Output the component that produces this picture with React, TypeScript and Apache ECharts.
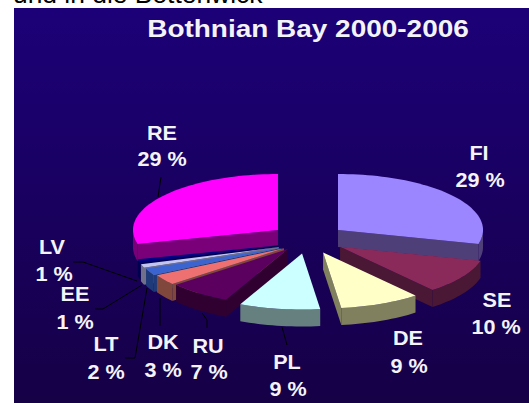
import React, { useEffect, useRef } from "react";
import * as echarts from "echarts";

const TITLE = "Bothnian Bay 2000-2006";
const HEADING = "und in die Bottenwick";
const categories = ["FI", "SE", "DE", "PL", "RU", "DK", "LT", "EE", "LV", "RE"];
const shares = [29, 10, 9, 9, 7, 3, 2, 1, 1, 29];
const topColors = ["#9b86ff", "#8a2a5a", "#ffffc8", "#ccffff", "#5c0060", "#ee7070", "#3c64d0", "#c4c4f0", "#000080", "#ff00ff"];
const sideColors = ["#4f3f78", "#4a1834", "#80805f", "#668080", "#300030", "#80483c", "#1e3a78", "#70708c", "#000050", "#7a007a"];
const explode = [38, 38, 38, 38, 33, 29, 30, 31, 31, 38];
const dropY = [0, 0, 0, 0, 0, 3, 4, 4, 3, 0];
const labelCenters: [number, number, number, number][] = [
  [479, 153, 480, 180],
  [497, 300, 496, 327],
  [408, 338, 409, 366],
  [287, 362, 288, 389],
  [208, 346, 209, 372],
  [163, 342, 163, 370],
  [106, 344, 106, 372],
  [75, 294, 75, 322],
  [52, 247, 54, 274],
  [162, 133, 162, 159],
];
const leaderLines: [number, number][][] = [
  [[73, 262], [83, 262], [137, 281]],
  [[95, 309], [103, 309], [142, 285]],
  [[125, 358], [135, 358], [147, 288]],
  [[160, 298], [160, 326]],
  [[202, 313], [207, 320], [207, 328]],
  [[282, 327], [287, 345]],
  [[161, 177], [158, 197]],
];

const CX = 308;
const CY = 239;
const RX = 145;
const RY = 56;
const DEPTH = 17;
const RAD = Math.PI / 180;

const total = shares.reduce((a, b) => a + b, 0);
const starts: number[] = [];
shares.reduce((acc, v, i) => {
  starts[i] = acc;
  return acc + (v / total) * 360;
}, 0);
const ends = shares.map((v, i) => starts[i] + (v / total) * 360);

const drawOrder = categories
  .map((_, i) => i)
  .sort((a, b) => -Math.cos(((starts[a] + ends[a]) / 2) * RAD) + Math.cos(((starts[b] + ends[b]) / 2) * RAD));

function renderSlice(params: any, api: any) {
  const rank = params.dataIndex;
  const i = api.value(0);
  const a = starts[i];
  const b = ends[i];
  const mid = ((a + b) / 2) * RAD;
  const ax = CX + explode[i] * Math.sin(mid);
  const ay = CY - explode[i] * Math.cos(mid) * (RY / RX) + dropY[i];
  const pt = (deg: number, dz = 0): number[] => [
    ax + RX * Math.sin(deg * RAD),
    ay - RY * Math.cos(deg * RAD) + dz,
  ];
  const arc = (from: number, to: number, dz = 0) => {
    const out: number[][] = [];
    const n = Math.max(2, Math.ceil((to - from) / 2));
    for (let k = 0; k <= n; k++) out.push(pt(from + ((to - from) * k) / n, dz));
    return out;
  };
  const poly = (points: number[][], fill: string, sub: number) => ({
    type: "polygon",
    z2: rank * 10 + sub,
    shape: { points },
    style: { fill },
  });
  const children: any[] = [];
  const side = sideColors[i];
  if (a > 180) {
    const p = pt(a);
    children.push(poly([[ax, ay], p, [p[0], p[1] + DEPTH], [ax, ay + DEPTH]], side, 0));
  }
  if (b < 180) {
    const p = pt(b);
    children.push(poly([[ax, ay], p, [p[0], p[1] + DEPTH], [ax, ay + DEPTH]], side, 0));
  }
  const r0 = Math.max(a, 90);
  const r1 = Math.min(b, 270);
  if (r1 > r0) {
    children.push(poly([...arc(r0, r1), ...arc(r0, r1, DEPTH).reverse()], side, 1));
  }
  children.push(poly([[ax, ay], ...arc(a, b)], topColors[i], 2));
  return { type: "group", children };
}

export default function App() {
  const ref = useRef<HTMLDivElement>(null);
  useEffect(() => {
    document.body.style.margin = "0";
    document.body.style.overflow = "hidden";
    const chart = echarts.init(ref.current!, undefined, { renderer: "svg" });
    const white = "#f4f4f8";
    const textEl = (text: string, x: number, y: number, size: number, sx: number) => ({
      type: "text",
      x,
      y,
      scaleX: sx,
      z: 20,
      style: {
        text,
        fill: white,
        font: `bold ${size}px "Liberation Sans", Arial, sans-serif`,
        textAlign: "center",
        textVerticalAlign: "middle",
      },
    });
    chart.setOption({
      animation: false,
      backgroundColor: "#ffffff",
      graphic: [
        {
          type: "text",
          x: 13,
          y: 7,
          z: -20,
          style: {
            text: HEADING,
            fill: "#000000",
            font: '26.4px "Liberation Sans", Arial, sans-serif',
            textAlign: "left",
            textVerticalAlign: "bottom",
          },
        },
        {
          type: "rect",
          z: -10,
          shape: { x: 14, y: 8, width: 515, height: 395 },
          style: {
            fill: new echarts.graphic.LinearGradient(0, 0, 0, 1, [
              { offset: 0, color: "#1c0078" },
              { offset: 1, color: "#160046" },
            ]),
          },
        },
        textEl(TITLE, 308, 29, 24, 1.165),
        ...categories.flatMap((c, i) => {
          const l = labelCenters[i];
          return [
            textEl(c, l[0], l[1], 20, 1.08),
            textEl(`${shares[i]} %`, l[2], l[3], 20, 1.08),
          ];
        }),
        ...leaderLines.map((points) => ({
          type: "polyline",
          z: 15,
          shape: { points },
          style: { stroke: "#000000", lineWidth: 1, fill: "none" },
        })),
      ],
      series: [
        {
          type: "custom",
          coordinateSystem: "none",
          silent: true,
          clip: false,
          renderItem: renderSlice,
          data: drawOrder.map((i) => [i, shares[i]]),
        },
      ],
    });
    return () => chart.dispose();
  }, []);
  return <div ref={ref} style={{ position: "absolute", left: 0, top: 0, width: 529, height: 403 }} />;
}
